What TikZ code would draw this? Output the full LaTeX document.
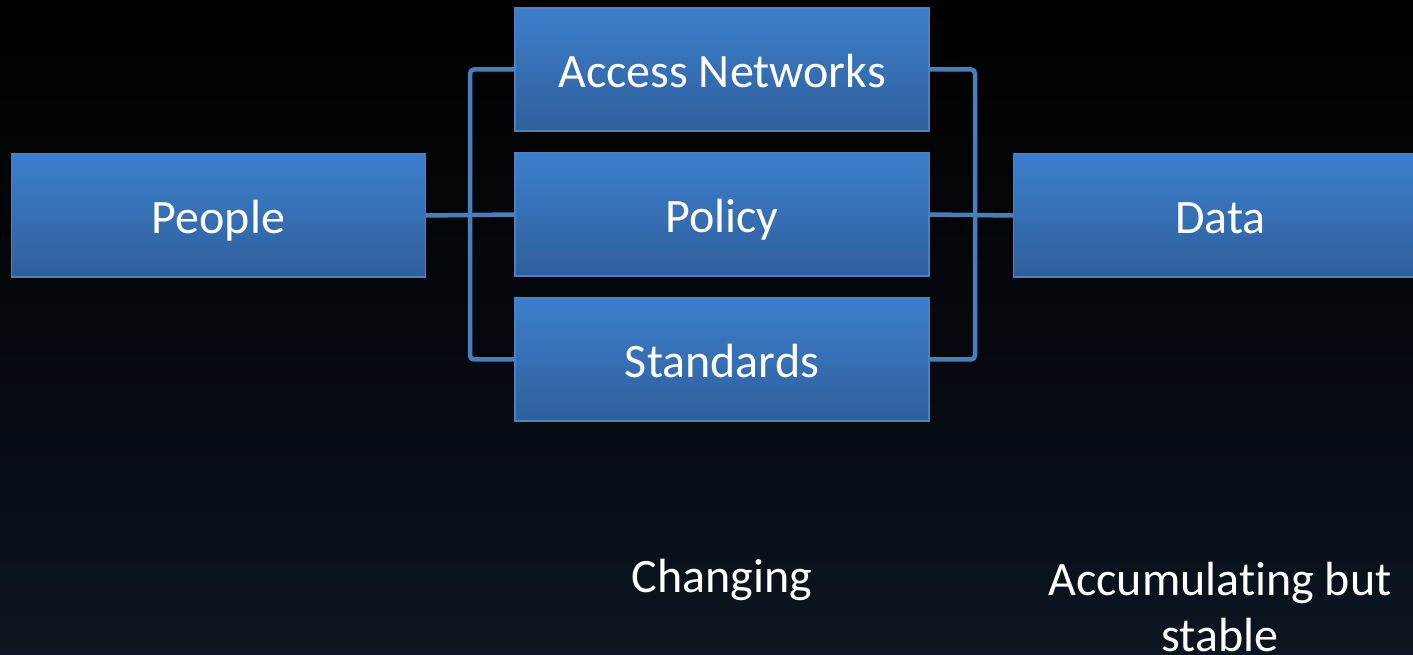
\documentclass[tikz,border=0pt]{standalone}
\usepackage{fontspec}
\setmainfont{Carlito}[Ligatures=NoCommon]
\definecolor{boxtop}{RGB}{61,127,205}
\definecolor{boxbot}{RGB}{46,95,155}
\definecolor{boxline}{RGB}{78,128,190}
\definecolor{conn}{RGB}{74,126,187}
\definecolor{bgbot}{RGB}{12,21,33}
\begin{document}
\begin{tikzpicture}[x=1pt,y=1pt,
  blk/.style={draw=boxline, line width=1.2pt, top color=boxtop, bottom color=boxbot,
    minimum width=414pt, minimum height=123pt, inner sep=0pt, text=white,
    text height=36pt, text depth=0pt,
    font=\fontsize{48}{56}\selectfont},
  conline/.style={draw=conn, line width=4.5pt, rounded corners=4pt},
  lbl/.style={text=white, font=\fontsize{48}{56}\selectfont, align=center, inner sep=0pt}]
\useasboundingbox (0,0) rectangle (1413,655);
\clip (0,0) rectangle (1413,655);
\shade[top color=black, bottom color=bgbot, middle color=black!60!bgbot] (0,0) rectangle (1413,655);
\node[blk] (acc) at (722,585.5) {Access Networks};
\node[blk] (pol) at (722,440.5) {Policy};
\node[blk] (std) at (722,295.5) {Standards};
\node[blk] (people) at (218.5,439.5) {People};
\node[blk] (data) at (1220.5,439.5) {Data};
\coordinate (lx) at (470,0);
\coordinate (rx) at (975,0);
\draw[conline] (acc.west) -| (lx |- pol.west) |- (std.west);
\draw[conline] (acc.east) -| (rx |- pol.east) |- (std.east);
\draw[conline] (people.east) -- (pol.west);
\draw[conline] (pol.east) -- (data.west);
\node[lbl] (chg) at (722,75) {Changing};
\node[lbl] (acs) at (1220,48) {Accumulating but\\stable};
\end{tikzpicture}
\end{document}
